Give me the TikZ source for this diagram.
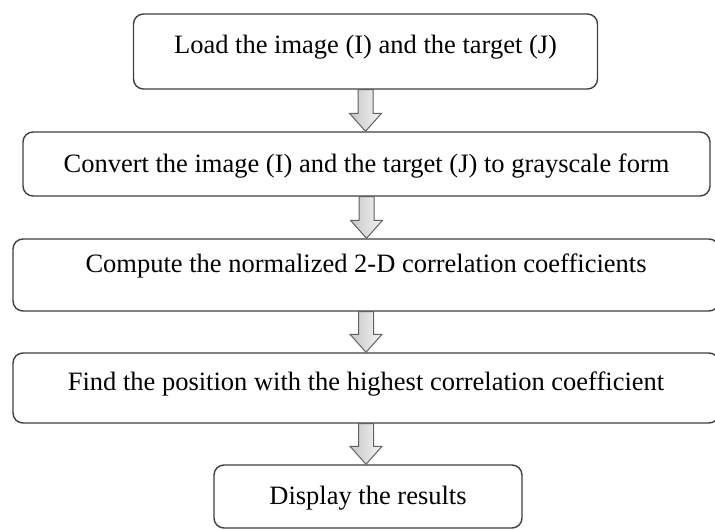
\documentclass[tikz,border=0pt]{standalone}
\usepackage{fontspec}
\setmainfont{Liberation Serif}
\usetikzlibrary{calc}
\newcommand\blockarr[2]{%
  \path[blockarrow] let \p1=(#1.south), \p2=(#2.north) in
    (\x1-7.5pt,\y1) -- (\x1+7.5pt,\y1) -- (\x1+7.5pt,\y2+18pt) -- (\x1+16pt,\y2+18pt)
    -- (\x1,\y2) -- (\x1-16pt,\y2+18pt) -- (\x1-7.5pt,\y2+18pt) -- cycle;}
\begin{document}
\begin{tikzpicture}[x=1pt,y=-1pt,
  stepbox/.style={draw=black!75, line width=1.4pt, rounded corners=10pt, fill=white,
    font=\fontsize{26.5}{31}\selectfont, inner sep=0pt, align=center, text height=18pt},
  blockarrow/.style={draw=black!62, line width=1pt, left color=gray!45, right color=gray!8}]
\useasboundingbox (0,0) rectangle (715,530);
\fill[white] (0,0) rectangle (715,530);
\node[stepbox, minimum width=464pt, minimum height=75pt, text depth=13.5pt] (b1) at (365.5,51.5)
  {Load the image (I) and the target (J)};
\node[stepbox, minimum width=687pt, minimum height=64pt, text depth=0.5pt] (b2) at (366.5,164)
  {Convert the image (I) and the target (J) to grayscale form};
\node[stepbox, minimum width=706pt, minimum height=72pt, text depth=23.1pt] (b3) at (366,275)
  {Compute the normalized 2-D correlation coefficients};
\node[stepbox, minimum width=706pt, minimum height=70pt, text depth=13.1pt] (b4) at (366,388)
  {Find the position with the highest correlation coefficient};
\node[stepbox, minimum width=308pt, minimum height=63pt, text depth=2.1pt] (b5) at (368,496.5)
  {Display the results};
\blockarr{b1}{b2}
\blockarr{b2}{b3}
\blockarr{b3}{b4}
\blockarr{b4}{b5}
\end{tikzpicture}
\end{document}
